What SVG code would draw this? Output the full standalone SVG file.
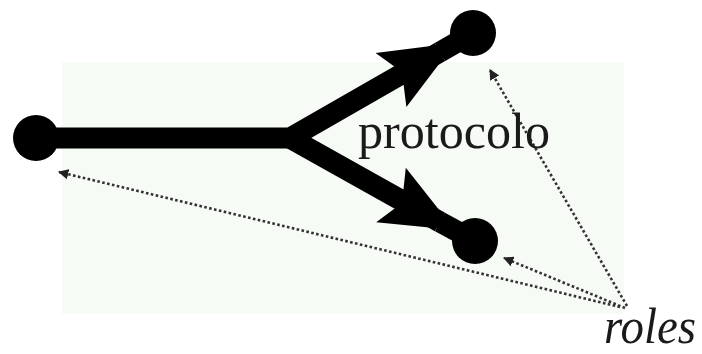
<svg xmlns="http://www.w3.org/2000/svg" width="702" height="354" viewBox="0 0 702 354">
  <defs>
    <style>
      .node { fill: #000; }
      .thick { fill: none; stroke: #000; stroke-width: 21; stroke-linejoin: miter; }
      .head { fill: #000; }
      .dotted { fill: none; stroke: #333; stroke-width: 2.6; stroke-dasharray: 2.6 2.4; }
      .lbl { font-family: "Liberation Serif", "Times New Roman", serif; font-size: 50px; fill: #1a1a1a; }
    </style>
    <marker id="dotarrow" viewBox="0 0 10 10" refX="9" refY="5" markerWidth="4" markerHeight="4" orient="auto" markerUnits="strokeWidth">
      <path d="M0,0 L10,5 L0,10 Z" fill="#222"/>
    </marker>
  </defs>
  <rect x="0" y="0" width="702" height="354" fill="#ffffff"/>
  <rect x="62" y="62" width="562" height="252" fill="#f7fbf6"/>

  <g id="connectors">
    <path class="thick" d="M36,138 L290,138 L440,52"/>
    <path class="thick" d="M290,138 L440,222"/>
    <polygon class="head" points="455,43 375.6,53.1 402,72 406.4,106.9"/>
    <polygon class="head" points="455,230 405.8,167.8 402,203 376.2,222.2"/>
    <line class="thick" x1="440" y1="52" x2="473" y2="33"/>
    <line class="thick" x1="440" y1="222" x2="475" y2="241"/>
    <line class="dotted" x1="620" y1="307" x2="59" y2="172" marker-end="url(#dotarrow)"/>
    <line class="dotted" x1="625" y1="308" x2="504" y2="258" marker-end="url(#dotarrow)"/>
    <line class="dotted" x1="627" y1="306" x2="490" y2="70" marker-end="url(#dotarrow)"/>
  </g>

  <g id="node-left"><circle class="node" cx="36" cy="138" r="23"/></g>
  <g id="node-top"><circle class="node" cx="473" cy="33" r="23"/></g>
  <g id="node-bottom"><circle class="node" cx="475" cy="241" r="23"/></g>

  <g id="label-protocolo"><text class="lbl" x="358" y="148" textLength="192" lengthAdjust="spacingAndGlyphs">protocolo</text></g>
  <g id="label-roles"><text class="lbl" x="604" y="343" font-size="46" font-style="italic" textLength="92" lengthAdjust="spacingAndGlyphs">roles</text></g>
</svg>
